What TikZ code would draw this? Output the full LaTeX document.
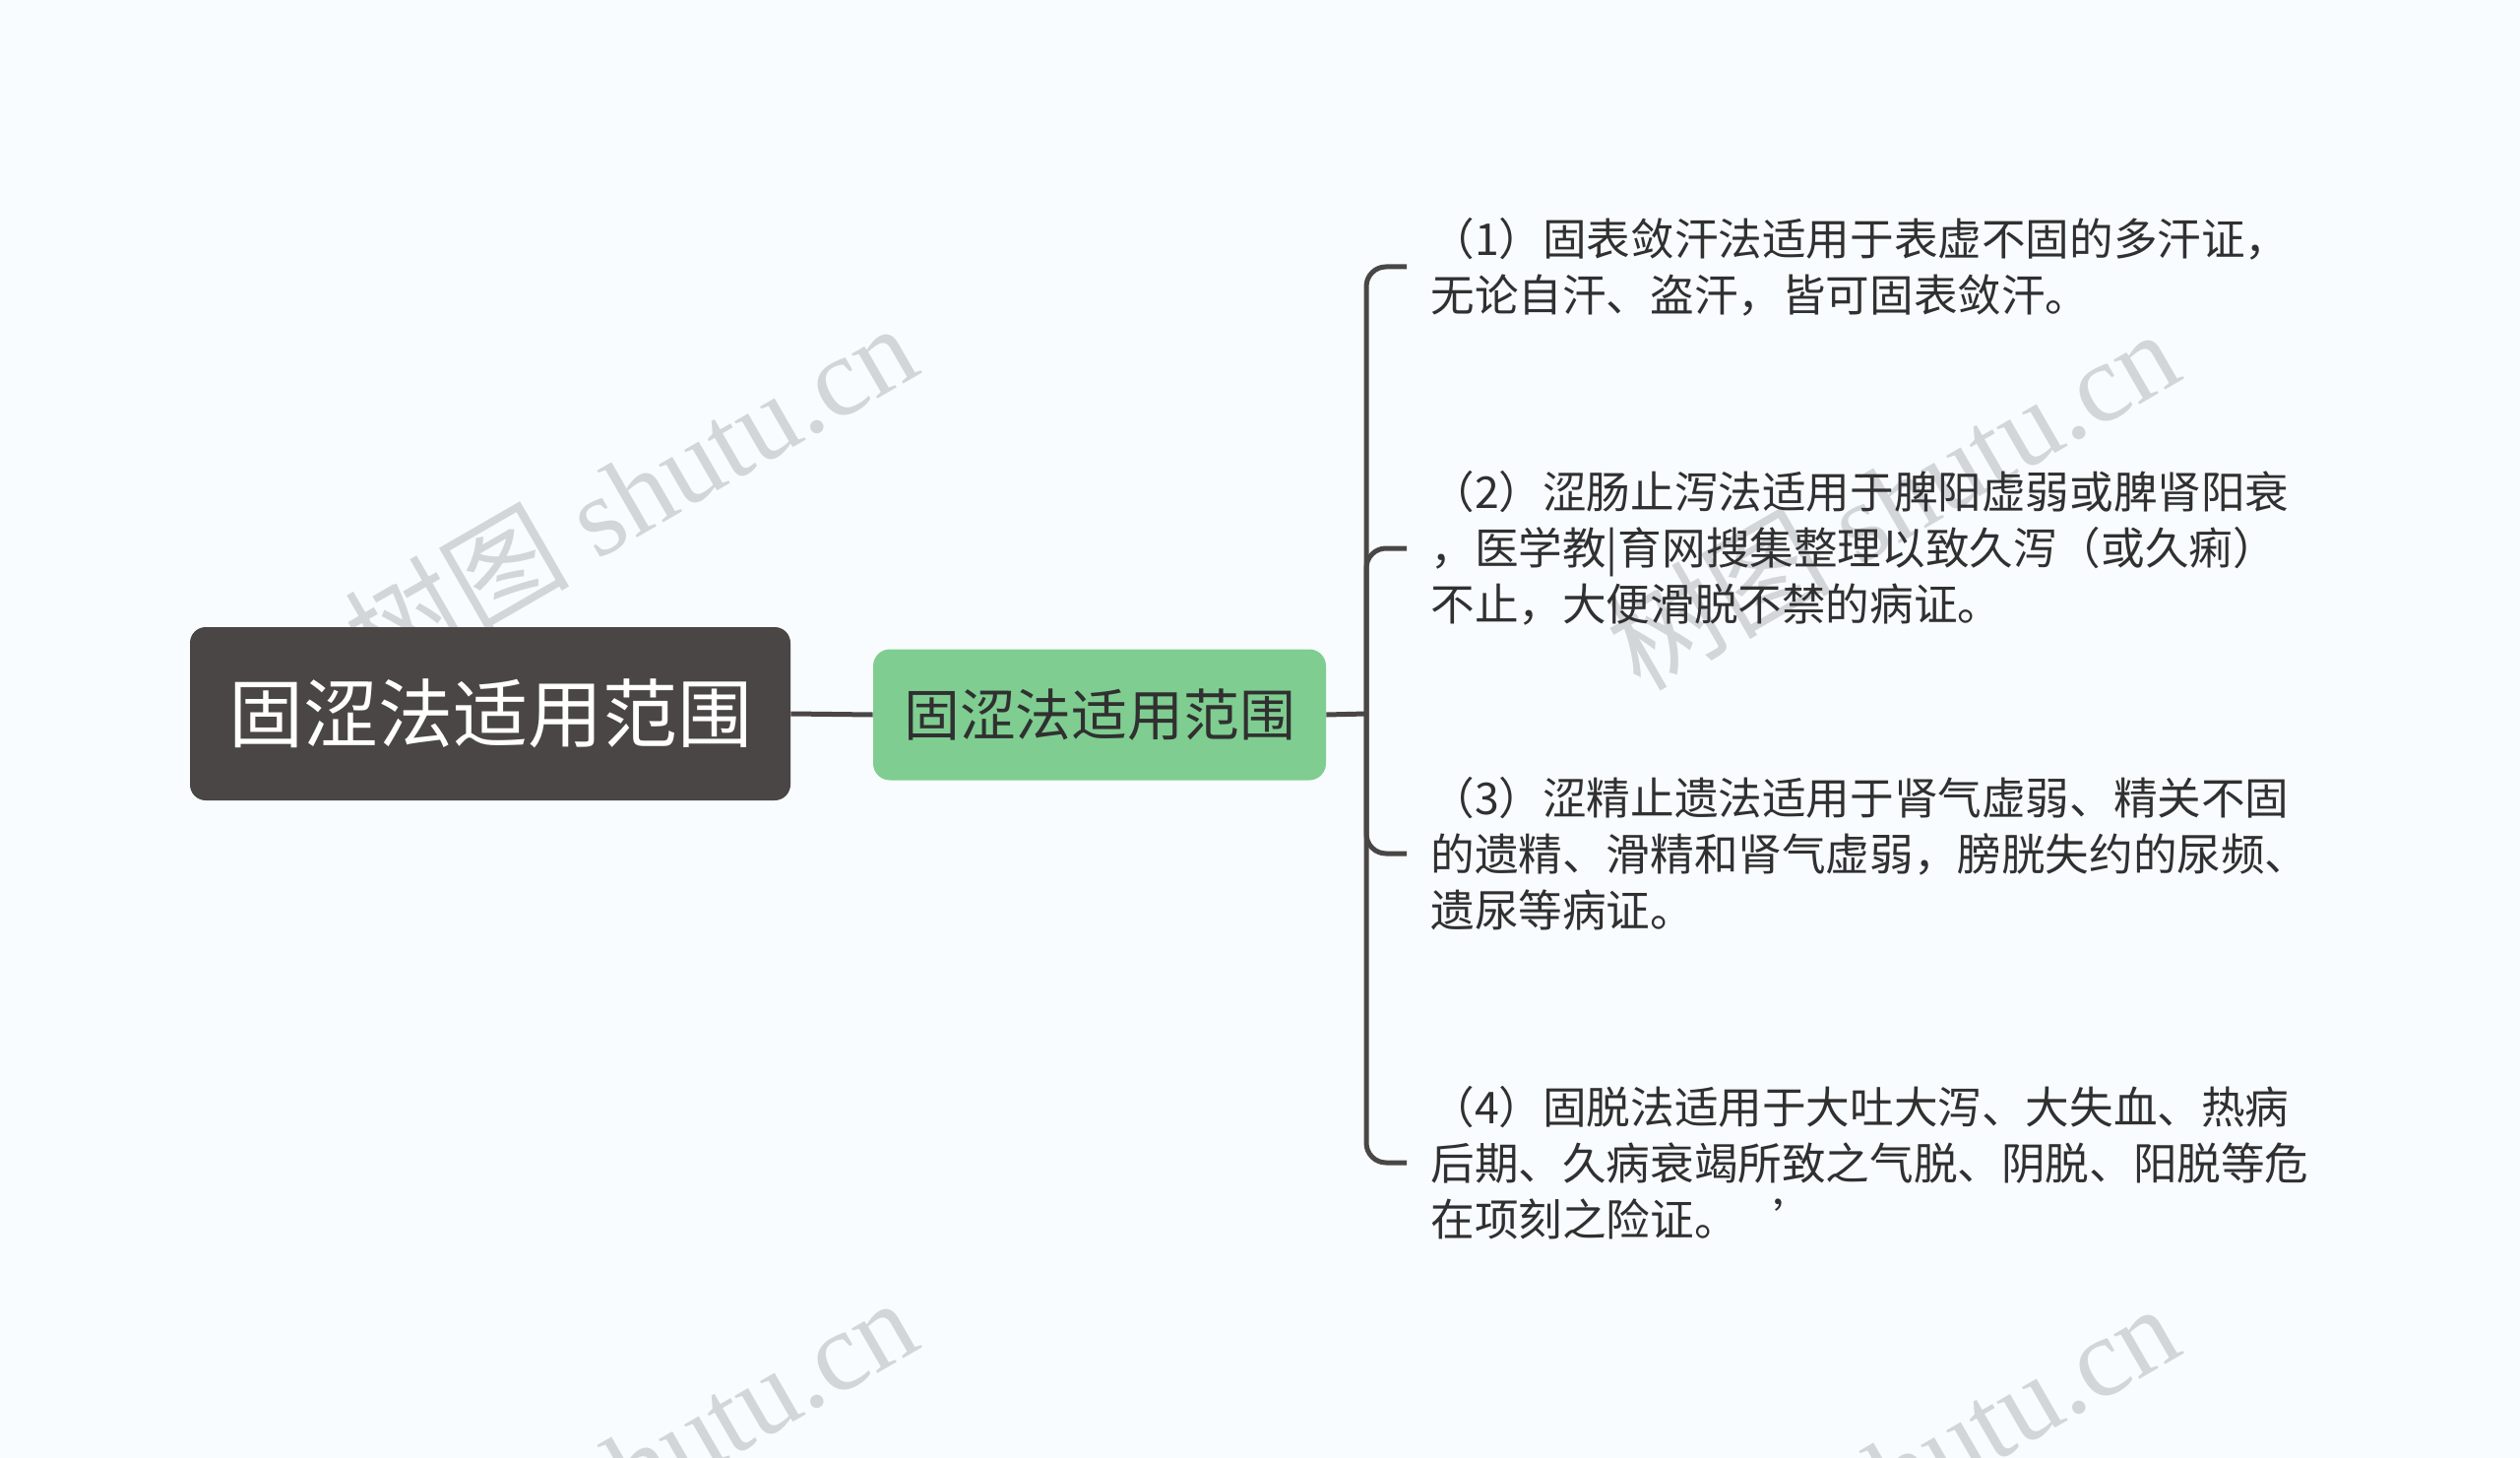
\documentclass[tikz,border=0pt]{standalone}
\usepackage{fontspec}
\setmainfont{Noto Sans CJK SC}
\newfontfamily\wmlatin{Liberation Serif}
\newfontfamily\wmcjk{Noto Sans CJK SC}
\definecolor{bgc}{RGB}{248,252,254}
\definecolor{darkc}{RGB}{75,70,70}
\definecolor{greenc}{RGB}{127,205,145}
\definecolor{txtc}{RGB}{48,48,48}
\definecolor{wmc}{RGB}{210,214,216}
\tikzset{
  rootbox/.style={fill=darkc, rounded corners=8pt, minimum width=305pt, minimum height=88pt,
    text=white, font=\fontsize{38pt}{44pt}\selectfont, inner sep=0pt},
  subbox/.style={fill=greenc, rounded corners=8.5pt, minimum width=230pt, minimum height=66.5pt,
    text=txtc, font=\fontsize{28.4pt}{34pt}\selectfont, inner sep=0pt},
  leaf/.style={anchor=west, align=left, inner xsep=12pt, inner ysep=0pt, text=txtc,
    font=\fontsize{22.3pt}{28.5pt}\selectfont},
  conn/.style={draw=darkc, line width=2.5pt},
  wm/.style={text=wmc, rotate=30, font=\fontsize{57pt}{66pt}\wmlatin, inner sep=0pt}
}
\begin{document}
\begin{tikzpicture}[x=0.5pt,y=-0.5pt]
\fill[bgc] (0,0) rectangle (2560,1481);
\useasboundingbox (0,0) rectangle (2560,1481);
\begin{scope}
\clip (0,0) rectangle (2560,1481);
\node[wm] (wm1) at (640,500) {{\wmcjk 树图} shutu.cn};
\node[wm] (wm2) at (1922,506) {{\wmcjk 树图} shutu.cn};
\node[wm] (wm3) at (640,1490) {{\wmcjk 树图} shutu.cn};
\node[wm] (wm4) at (1922,1496) {{\wmcjk 树图} shutu.cn};
\end{scope}

\node[rootbox] (root) at (498,725) {固涩法适用范围};
\node[subbox] (sub) at (1117,726) {固涩法适用范围};
\coordinate (j) at (1388,725);

\node[leaf] (t1) at (1429,271) {（1）固表敛汗法适用于表虚不固的多汗证，\\无论自汗、盗汗，皆可固表敛汗。};
\node[leaf] (t2) at (1429,557) {（2）涩肠止泻法适用于脾阳虚弱或脾肾阳衰\\，医学教|育网搜集整理以致久泻（或久痢）\\不止，大便滑脱不禁的病证。};
\node[leaf] (t3) at (1429,867) {（3）涩精止遗法适用于肾气虚弱、精关不固\\的遗精、滑精和肾气虚弱，膀胱失约的尿频、\\遗尿等病证。};
\node[leaf] (t4) at (1429,1181) {（4）固脱法适用于大吐大泻、大失血、热病\\后期、久病衰竭所致之气脱、阴脱、阳脱等危\\在项刻之险证。\hspace{0.8em}’};

\draw[conn] (root.east) -- (sub.west);
\draw[conn] (sub.east) -- (j);
\foreach \t in {t1,t2,t3,t4}{
  \draw[conn, rounded corners=10pt] (j) |- (\t.west);
}
\end{tikzpicture}
\end{document}
